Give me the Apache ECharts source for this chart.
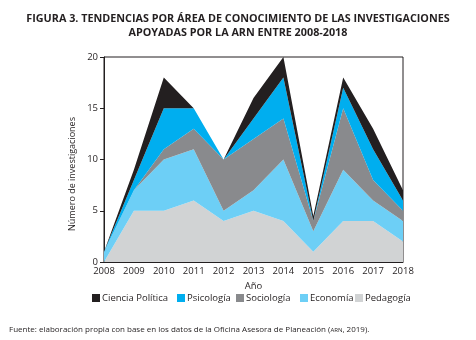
<!DOCTYPE html>
<html><head><meta charset="utf-8">
<script src="https://cdn.jsdelivr.net/npm/echarts@6/dist/echarts.min.js"></script>
<style>html,body{margin:0;padding:0;background:#fff}#c{width:476px;height:340px}</style>
</head><body><div id="c"></div>
<script>
const years = ['2008','2009','2010','2011','2012','2013','2014','2015','2016','2017','2018'];
const pedagogia = [0,5,5,6,4,5,4,1,4,4,2];
const economia = [1,2,5,5,1,2,6,2,5,2,2];
const sociologia = [0,0,1,2,5,5,4,1,6,2,1];
const psicologia = [0,1,4,2,0,2,4,0,2,3,1];
const cienciaPolitica = [0,1,3,0,0,2,2,0.5,1,2,1];
const yTicks = [0,5,10,15,20];
const legendNames = ['Ciencia Política','Psicología','Sociología','Economía','Pedagogía'];

const FONT = 'Open Sans';
const TXT = '#231f20';
function area(name, data, color){
  return {name, type:'line', stack:'t', data, symbol:'none', smooth:false,
    lineStyle:{width:0}, itemStyle:{color}, areaStyle:{color, opacity:1}};
}
const legendLefts = [92, 177, 236, 300, 355];
const legends = legendNames.map((n,i)=>({
  data:[n], left:legendLefts[i], top:293, icon:'rect', itemWidth:8, itemHeight:8,
  padding:0, textStyle:{fontFamily:FONT, fontSize:9.5, color:TXT, padding:[0,0,0,-3]}
}));
const chart = echarts.init(document.getElementById('c'));
chart.setOption({
  animation:false,
  textStyle:{fontFamily:FONT},
  title:[{
    text:'FIGURA 3. TENDENCIAS POR ÁREA DE CONOCIMIENTO DE LAS INVESTIGACIONES\nAPOYADAS POR LA ARN ENTRE 2008-2018',
    left:'center', top:7,
    textStyle:{fontFamily:FONT, fontWeight:'bold', fontSize:10.8, color:TXT, lineHeight:14}
  },{
    text:'Fuente: elaboración propia con base en los datos de la Oficina Asesora de Planeación ({s|ARN}, 2019).',
    left:4, top:321,
    textStyle:{fontFamily:FONT, fontWeight:'normal', fontSize:8, color:TXT,
      rich:{s:{fontSize:6, fontFamily:FONT, fontWeight:'normal', color:TXT}}}
  }],
  legend:legends,
  graphic:[{type:'text', x:72, y:174, rotation:Math.PI/2,
    style:{text:'Número de investigaciones', font:'9px "Open Sans"', fill:TXT, align:'center', verticalAlign:'middle'}}],
  grid:{left:104, right:73, top:57, bottom:78, show:true, borderColor:TXT, borderWidth:1, backgroundColor:'transparent'},
  xAxis:{type:'category', data:years, boundaryGap:false,
    name:'Año', nameLocation:'middle', nameGap:17,
    nameTextStyle:{fontFamily:FONT, fontSize:9.5, color:TXT},
    axisLine:{lineStyle:{color:TXT}}, axisTick:{show:false},
    axisLabel:{fontFamily:FONT, fontSize:9.5, color:TXT, margin:4, showMinLabel:true, showMaxLabel:true},
    splitLine:{show:false}},
  yAxis:{type:'value', min:yTicks[0], max:yTicks[yTicks.length-1], interval:5,
    axisLine:{show:true, lineStyle:{color:TXT}}, axisTick:{show:true, length:4, lineStyle:{color:TXT}},
    axisLabel:{fontFamily:FONT, fontSize:9.5, color:TXT, margin:6},
    splitLine:{show:false}},
  series:[
    area('Pedagogía', pedagogia, '#d1d3d4'),
    area('Economía', economia, '#6dcff6'),
    area('Sociología', sociologia, '#898a8d'),
    area('Psicología', psicologia, '#00aeef'),
    area('Ciencia Política', cienciaPolitica, '#231f20')
  ]
});
</script></body></html>
